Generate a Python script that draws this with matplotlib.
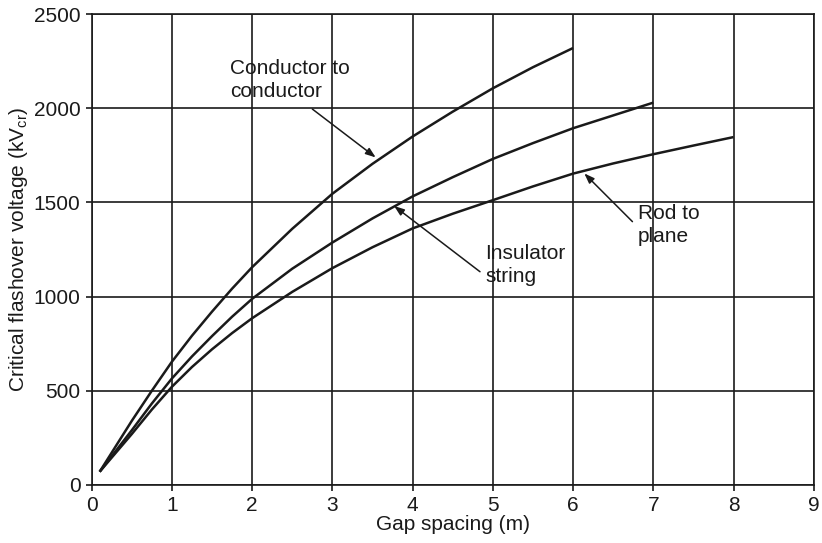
import matplotlib
matplotlib.use("Agg")
import matplotlib.pyplot as plt

# Data (gap spacing in m, flashover voltage in kV)
x_cc = [0.1, 0.5, 0.75, 1.0, 1.25, 1.5, 1.75, 2.0, 2.5, 3.0, 3.5, 4.0, 4.5, 5.0, 5.5, 6.0]
v_cc = [70, 340, 500, 654, 792, 920, 1042, 1156, 1360, 1546, 1705, 1850, 1982, 2106, 2218, 2320]

x_ins = [0.1, 0.5, 0.75, 1.0, 1.25, 1.5, 1.75, 2.0, 2.5, 3.0, 3.5, 4.0, 4.5, 5.0, 5.5, 6.0, 6.5, 7.0]
v_ins = [70, 290, 432, 565, 682, 790, 893, 988, 1148, 1287, 1415, 1532, 1634, 1731, 1815, 1894, 1962, 2030]

x_rod = [0.1, 0.5, 0.75, 1.0, 1.25, 1.5, 1.75, 2.0, 2.5, 3.0, 3.5, 4.0, 4.5, 5.0, 5.5, 6.0, 6.5, 7.0, 7.5, 8.0]
v_rod = [70, 270, 400, 521, 626, 720, 806, 885, 1025, 1151, 1262, 1362, 1440, 1512, 1585, 1653, 1707, 1756, 1802, 1847]

plt.rcParams['font.family'] = ['Liberation Sans', 'DejaVu Sans']
plt.rcParams['mathtext.fontset'] = 'custom'
plt.rcParams['mathtext.rm'] = 'Liberation Sans'

fig = plt.figure(figsize=(8.22, 5.43), dpi=100)
ax = fig.add_axes([0.1115, 0.107, 0.8785, 0.867])

ink = '#1a1a1a'
fs = 15
for xs, vs in [(x_cc, v_cc), (x_ins, v_ins), (x_rod, v_rod)]:
    ax.plot(xs, vs, color=ink, lw=1.8, solid_capstyle='butt',
            solid_joinstyle='round', zorder=3)

ax.set_xlim(0, 9)
ax.set_ylim(0, 2500)
ax.set_xticks(range(0, 10))
ax.set_yticks(range(0, 2501, 500))
ax.grid(True, color=ink, lw=1.2)
ax.set_axisbelow(True)
for s in ax.spines.values():
    s.set_color(ink)
    s.set_linewidth(1.2)
ax.tick_params(direction='out', length=4, width=1.2, color=ink,
               labelsize=fs, pad=4, labelcolor=ink)

ax.set_xlabel('Gap spacing (m)', fontsize=fs, color=ink, labelpad=0)
ax.set_ylabel(r'Critical flashover voltage (kV$_\mathregular{cr}$)',
              fontsize=fs, color=ink, labelpad=3)

arrow = dict(arrowstyle='-|>,head_length=0.6,head_width=0.22', color=ink,
             lw=1.1, shrinkA=0, shrinkB=0)

ax.text(1.73, 2262, 'Conductor to\nconductor', fontsize=fs, color=ink,
        va='top', ha='left', linespacing=1.3)
ax.annotate('', xy=(3.54, 1739), xytext=(2.75, 1996), arrowprops=arrow)

ax.text(4.91, 1280, 'Insulator\nstring', fontsize=fs, color=ink,
        va='top', ha='left', linespacing=1.3)
ax.annotate('', xy=(3.77, 1481), xytext=(4.84, 1132), arrowprops=arrow)

ax.text(6.81, 1492, 'Rod to\nplane', fontsize=fs, color=ink,
        va='top', ha='left', linespacing=1.3)
ax.annotate('', xy=(6.14, 1654), xytext=(6.74, 1398), arrowprops=arrow)

fig.savefig('out.png', dpi=100, facecolor='white')
